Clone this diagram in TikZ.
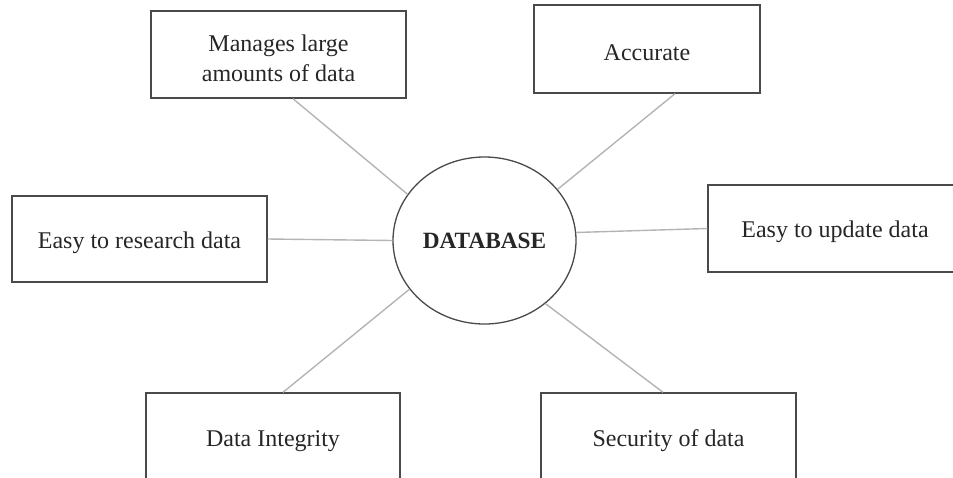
\documentclass[tikz,border=0pt]{standalone}
\usepackage{fontspec}
\setmainfont{Liberation Serif}
\usetikzlibrary{calc,shapes.geometric}
\definecolor{boxc}{HTML}{4A4A4A}
\definecolor{linec}{HTML}{B4B4B4}
\definecolor{txtc}{HTML}{262626}
\newcommand{\lowr}[1]{\raisebox{-3.5pt}[\height][\depth]{#1}}
\tikzset{
  box/.style={draw=boxc, line width=1.4pt, rectangle, inner sep=0pt, align=center, text=txtc, font=\fontsize{24}{30}\selectfont},
  dbnode/.style={draw=boxc, line width=1.3pt, ellipse, inner sep=0pt, text=txtc, font=\fontsize{23.3}{27}\selectfont\bfseries},
  link/.style={draw=linec, line width=1.4pt}
}
\begin{document}
\begin{tikzpicture}[x=1pt,y=-1pt]
\useasboundingbox (0,0) rectangle (953,477);
\clip (0,0) rectangle (953,477);
\node[box, minimum width=255pt, minimum height=87pt] (m) at (278.5,54.5) {\lowr{Manages large}\\\lowr{amounts of data}};
\node[box, minimum width=226pt, minimum height=88pt] (a) at (647,49) {\lowr{Accurate}};
\node[box, minimum width=255pt, minimum height=86pt] (r) at (139.5,239) {\lowr{Easy to research data}};
\node[dbnode, minimum width=183pt, minimum height=167pt] (db) at (484.5,240.5) {DATABASE};
\node[box, minimum width=254pt, minimum height=87pt] (u) at (835,228.5) {\lowr{Easy to update data}};
\node[box, minimum width=254pt, minimum height=96pt] (i) at (273,441) {Data Integrity};
\node[box, minimum width=255pt, minimum height=96pt] (s) at (668.5,441) {Security of data};
\draw[link] ($(m.south)+(14.5,0)$) -- (db.149);
\draw[link] ($(a.south)+(28,0)$) -- (db.35);
\draw[link] (r.east) -- (db.west);
\draw[link] (db.5) -- (u.west);
\draw[link] ($(i.north)+(10,0)$) -- (db.213);
\draw[link] ($(s.north)+(-5.5,0)$) -- (db.314);
\end{tikzpicture}
\end{document}
